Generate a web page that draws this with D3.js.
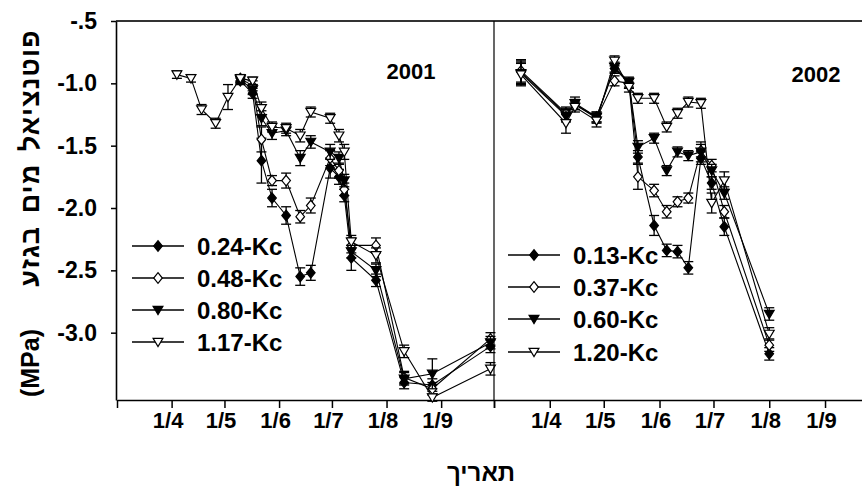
<!DOCTYPE html>
<html><head><meta charset="utf-8">
<script src="https://cdn.jsdelivr.net/npm/d3@7"></script>
<style>body{margin:0;background:#fff}svg{display:block}</style>
</head><body>
<svg id="c" width="862" height="499"></svg>
<script>
// ---------- data ----------
const yTickValues = [-0.5, -1.0, -1.5, -2.0, -2.5, -3.0];
const yTickLabels = ["-.5", "-1.0", "-1.5", "-2.0", "-2.5", "-3.0"];
const monthTicks2001 = ["2001-03-01","2001-04-01","2001-05-01","2001-06-01","2001-07-01","2001-08-01","2001-09-01","2001-10-01"];
const monthTicks2002 = ["2002-03-01","2002-04-01","2002-05-01","2002-06-01","2002-07-01","2002-08-01","2002-09-01","2002-10-01"];
const monthLabels = ["", "1/4", "1/5", "1/6", "1/7", "1/8", "1/9", ""];

// 2001 season
const early2001 = ["2001-04-04","2001-04-12","2001-04-18","2001-04-26","2001-05-03"];
const early2001_117 = [-0.93, -0.96, -1.21, -1.32, -1.11];
const early2001_117err = [0.03, 0.03, 0.04, 0.04, 0.10];
const dates2001 = ["2001-05-10","2001-05-17","2001-05-22","2001-05-28","2001-06-05","2001-06-13","2001-06-19","2001-06-30","2001-07-05","2001-07-08","2001-07-12","2001-07-26","2001-08-11","2001-08-27","2001-09-29"];
const v2001_024 = [-0.98, -1.08, -1.62, -1.92, -2.06, -2.55, -2.52, -1.68, -1.75, -1.90, -2.40, -2.58, -3.40, -3.42, -3.11];
const e2001_024 = [0.03, 0.04, 0.18, 0.07, 0.07, 0.07, 0.06, 0.08, 0.06, 0.05, 0.10, 0.05, 0.05, 0.05, 0.05];
const v2001_048 = [-0.96, -1.02, -1.45, -1.78, -1.78, -2.07, -1.98, -1.60, -1.70, -1.85, -2.30, -2.30, -3.36, -3.45, -3.05];
const e2001_048 = [0.03, 0.04, 0.10, 0.04, 0.06, 0.05, 0.06, 0.06, 0.06, 0.05, 0.06, 0.06, 0.05, 0.05, 0.05];
const v2001_080 = [-0.97, -1.05, -1.28, -1.40, -1.38, -1.60, -1.47, -1.55, -1.60, -1.78, -2.35, -2.50, -3.37, -3.33, -3.08];
const e2001_080 = [0.03, 0.04, 0.06, 0.05, 0.04, 0.06, 0.05, 0.06, 0.05, 0.05, 0.05, 0.05, 0.05, 0.12, 0.05];
const v2001_117 = [-0.96, -0.98, -1.20, -1.35, -1.36, -1.42, -1.23, -1.28, -1.42, -1.55, -2.27, -2.38, -3.15, -3.52, -3.29];
const e2001_117 = [0.03, 0.03, 0.05, 0.04, 0.04, 0.05, 0.04, 0.04, 0.05, 0.06, 0.05, 0.06, 0.05, 0.03, 0.05];

// 2002 season
const dates2002 = ["2002-03-16","2002-04-10","2002-04-15","2002-04-27","2002-05-07","2002-05-15","2002-05-20","2002-05-29","2002-06-05","2002-06-11","2002-06-17","2002-06-24","2002-06-30","2002-07-07","2002-08-01"];
const v2002_013 = [-0.91, -1.25, -1.17, -1.27, -0.88, -1.00, -1.59, -2.14, -2.34, -2.35, -2.48, -1.60, -1.80, -2.15, -3.17];
const e2002_013 = [0.09, 0.05, 0.04, 0.04, 0.04, 0.04, 0.05, 0.08, 0.05, 0.05, 0.05, 0.05, 0.05, 0.07, 0.05];
const v2002_037 = [-0.90, -1.24, -1.17, -1.28, -0.98, -1.00, -1.75, -1.86, -2.03, -1.95, -1.92, -1.54, -1.66, -2.03, -3.10];
const e2002_037 = [0.09, 0.05, 0.04, 0.04, 0.04, 0.04, 0.10, 0.05, 0.05, 0.04, 0.04, 0.05, 0.05, 0.05, 0.05];
const v2002_060 = [-0.92, -1.26, -1.16, -1.27, -0.87, -0.99, -1.51, -1.44, -1.70, -1.55, -1.58, -1.55, -1.70, -1.88, -2.85];
const e2002_060 = [0.09, 0.05, 0.05, 0.04, 0.04, 0.04, 0.05, 0.04, 0.04, 0.04, 0.04, 0.08, 0.05, 0.05, 0.05];
const v2002_120 = [-0.93, -1.32, -1.19, -1.30, -0.82, -1.03, -1.12, -1.12, -1.35, -1.24, -1.15, -1.16, -1.96, -1.78, -3.01];
const e2002_120 = [0.09, 0.08, 0.04, 0.05, 0.04, 0.04, 0.04, 0.04, 0.04, 0.04, 0.04, 0.04, 0.08, 0.07, 0.05];

const legend2001 = ["0.24-Kc", "0.48-Kc", "0.80-Kc", "1.17-Kc"];
const legend2002 = ["0.13-Kc", "0.37-Kc", "0.60-Kc", "1.20-Kc"];
const yearLabels = ["2001", "2002"];
const yTitleHe = "פוטנציאל מים בגזע";
const yTitleUnit = "(MPa)";
const xTitle = "תאריך";

// ---------- helpers ----------
const parse = d3.timeParse("%Y-%m-%d");
const mk = (ds, vs, es) => ds.map((d, i) => ({ date: parse(d), v: vs[i], e: es[i] }));

const diamond = { draw(ctx, s) { const r = Math.sqrt(s) * 0.62; ctx.moveTo(0, -r); ctx.lineTo(r * 0.82, 0); ctx.lineTo(0, r); ctx.lineTo(-r * 0.82, 0); ctx.closePath(); } };
const triDown = { draw(ctx, s) { const r = Math.sqrt(s) * 0.58; ctx.moveTo(-r, -r * 0.75); ctx.lineTo(r, -r * 0.75); ctx.lineTo(0, r * 0.95); ctx.closePath(); } };
const styles = [
  { type: diamond, fill: "#000" },
  { type: diamond, fill: "#fff" },
  { type: triDown, fill: "#000" },
  { type: triDown, fill: "#fff" }
];
const symbolSize = 72;

const panels = [
  {
    ticks: monthTicks2001, domain: ["2001-03-01", "2001-10-01"], range: [117, 494],
    series: [
      mk(dates2001, v2001_024, e2001_024),
      mk(dates2001, v2001_048, e2001_048),
      mk(dates2001, v2001_080, e2001_080),
      mk(early2001.concat(dates2001), early2001_117.concat(v2001_117), early2001_117err.concat(e2001_117))
    ],
    legend: legend2001, legendX: 132, legendY: [246, 278, 310, 342],
    year: yearLabels[0], yearX: 411, yearY: 79
  },
  {
    ticks: monthTicks2002, domain: ["2002-03-01", "2002-10-01"], range: [494, 879],
    series: [
      mk(dates2002, v2002_013, e2002_013),
      mk(dates2002, v2002_037, e2002_037),
      mk(dates2002, v2002_060, e2002_060),
      mk(dates2002, v2002_120, e2002_120)
    ],
    legend: legend2002, legendX: 508, legendY: [255, 287, 319, 352],
    year: yearLabels[1], yearX: 816, yearY: 82
  }
];

// ---------- chart ----------
const svg = d3.select("#c");
const plotTop = 21, plotBottom = 400;
const y = d3.scaleLinear().domain([-3.54, -0.5]).range([plotBottom, plotTop]);
const tickFont = "'Liberation Sans', Arial, sans-serif";

svg.append("line").attr("x1", 116).attr("x2", 862).attr("y1", plotTop).attr("y2", plotTop)
  .attr("stroke", "#333").attr("stroke-width", 2);

const yAxis = svg.append("g").attr("transform", "translate(116,0)")
  .call(d3.axisLeft(y).tickValues(yTickValues).tickFormat((d, i) => yTickLabels[i]).tickSize(5).tickSizeOuter(0).tickPadding(14));
yAxis.select(".domain").attr("stroke", "#000").attr("stroke-width", 1.6);
yAxis.selectAll(".tick line").attr("stroke", "#000").attr("stroke-width", 1.5);
yAxis.selectAll("text").attr("font-family", tickFont).attr("font-weight", "bold").attr("font-size", 23).attr("fill", "#000");

panels.forEach((p, pi) => {
  const x = d3.scaleTime().domain(p.domain.map(parse)).range(p.range);
  const gx = svg.append("g").attr("transform", `translate(0,${plotBottom})`)
    .call(d3.axisBottom(x).tickValues(p.ticks.map(parse)).tickFormat((d, i) => monthLabels[i]).tickSize(8).tickSizeOuter(0).tickPadding(4));
  gx.select(".domain").attr("stroke", "#000").attr("stroke-width", 1.6);
  gx.selectAll(".tick line").attr("stroke", "#000").attr("stroke-width", 1.5);
  gx.selectAll("text").attr("font-family", tickFont).attr("font-weight", "bold").attr("font-size", 22)
    .attr("fill", "#000").attr("dx", -4);

  if (pi === 1) {
    svg.append("line").attr("x1", x.range()[0]).attr("x2", x.range()[0]).attr("y1", plotTop).attr("y2", plotBottom)
      .attr("stroke", "#000").attr("stroke-width", 1.2);
  }

  const line = d3.line().x(d => x(d.date)).y(d => y(d.v));
  const g = svg.append("g");
  p.series.forEach((s) => {
    g.append("path").datum(s).attr("d", line).attr("fill", "none").attr("stroke", "#000").attr("stroke-width", 1.1);
  });
  p.series.forEach((s, si) => {
    const eg = g.append("g");
    s.forEach(d => {
      const cx = x(d.date), y1 = y(d.v - d.e), y2 = y(d.v + d.e);
      eg.append("line").attr("x1", cx).attr("x2", cx).attr("y1", y1).attr("y2", y2).attr("stroke", "#000").attr("stroke-width", 1.3);
      eg.append("line").attr("x1", cx - 5).attr("x2", cx + 5).attr("y1", y1).attr("y2", y1).attr("stroke", "#000").attr("stroke-width", 1.3);
      eg.append("line").attr("x1", cx - 5).attr("x2", cx + 5).attr("y1", y2).attr("y2", y2).attr("stroke", "#000").attr("stroke-width", 1.3);
    });
    g.selectAll(null).data(s).join("path")
      .attr("transform", d => `translate(${x(d.date)},${y(d.v)})`)
      .attr("d", d3.symbol().type(styles[si].type).size(symbolSize))
      .attr("fill", styles[si].fill).attr("stroke", "#000").attr("stroke-width", 1.2);
  });

  p.legend.forEach((lab, i) => {
    const ly = p.legendY[i];
    svg.append("line").attr("x1", p.legendX).attr("x2", p.legendX + 52).attr("y1", ly).attr("y2", ly)
      .attr("stroke", "#000").attr("stroke-width", 1.6);
    svg.append("path").attr("transform", `translate(${p.legendX + 26},${ly})`)
      .attr("d", d3.symbol().type(styles[i].type).size(symbolSize))
      .attr("fill", styles[i].fill).attr("stroke", "#000").attr("stroke-width", 1.2);
    svg.append("text").attr("x", p.legendX + 65).attr("y", ly + 8.5)
      .attr("font-family", tickFont).attr("font-weight", "bold").attr("font-size", 24).text(lab);
  });

  svg.append("text").attr("x", p.yearX).attr("y", p.yearY).attr("text-anchor", "middle")
    .attr("font-family", tickFont).attr("font-weight", "bold").attr("font-size", 22).text(p.year);
});

// y title: Hebrew part (top) and unit (bottom)
svg.append("text").attr("transform", "translate(39,158) rotate(-90)")
  .attr("text-anchor", "middle").style("direction", "rtl")
  .style("letter-spacing", "1px").style("word-spacing", "4px")
  .attr("font-family", tickFont).attr("font-weight", "bold").attr("font-size", 27).text(yTitleHe);
svg.append("text").attr("transform", "translate(39,363) rotate(-90)")
  .attr("text-anchor", "middle")
  .attr("font-family", tickFont).attr("font-weight", "bold").attr("font-size", 25).text(yTitleUnit);
svg.append("text").attr("x", 481).attr("y", 481).attr("text-anchor", "middle").style("direction", "rtl")
  .attr("font-family", tickFont).attr("font-weight", "bold").attr("font-size", 24).text(xTitle);
</script>
</body></html>
